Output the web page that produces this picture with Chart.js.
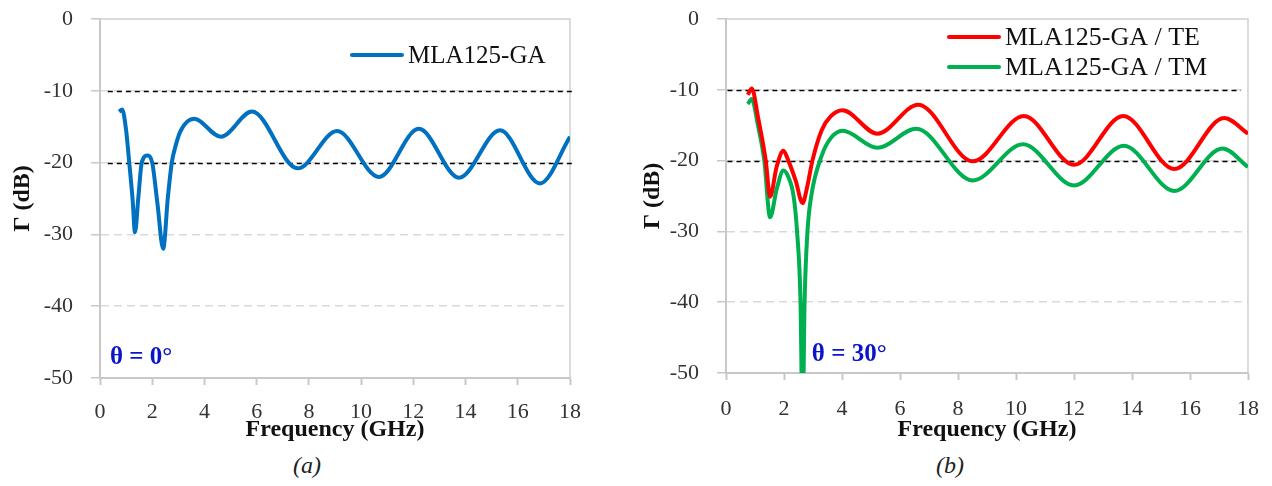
<!DOCTYPE html>
<html>
<head>
<meta charset="utf-8">
<script src="https://cdn.jsdelivr.net/npm/chart.js@4"></script>
<style>
  body { margin: 0; background: #fff; width: 1272px; height: 486px; position: relative; overflow: hidden; }
  canvas { position: absolute; top: 0; }
  .cap { position: absolute; top: 452px; font: italic 24px "Liberation Serif", serif; color: #222; }
</style>
</head>
<body>
<canvas id="chartA" width="600" height="445" style="left:0px"></canvas>
<canvas id="chartB" width="642" height="445" style="left:630px"></canvas>
<div class="cap" style="left:293px">(a)</div>
<div class="cap" style="left:936px">(b)</div>
<script>
// (a) theta = 0
const freqA = [0.73, 0.85, 1.0, 1.12, 1.25, 1.34, 1.47, 1.6, 1.83, 2.0, 2.2, 2.42, 2.6, 2.75, 2.9, 3.1, 3.6,
    4.63, 5.82, 7.57, 9.08, 10.68, 12.21, 13.75, 15.32, 16.85, 18];
const gammaA = [-12.9, -12.6, -15.5, -20, -25.2, -29.7, -24.8, -20, -19.0, -20, -25.7, -32.0, -24.8, -20, -17.6, -15.5, -13.9,
    -16.4, -12.9, -20.8, -15.6, -22.0, -15.3, -22.1, -15.5, -22.9, -16.4];

// (b) theta = 30, TE
const freqTE = [0.75, 0.89, 1.1, 1.37, 1.52, 1.75, 1.98, 2.15, 2.4, 2.64, 2.8, 2.98, 3.3, 3.6, 4.02,
    5.22, 6.63, 8.51, 10.27, 12.0, 13.7, 15.46, 17.18, 18];
const gammaTE = [-10.7, -9.8, -13.8, -20, -25.1, -20.8, -18.6, -20, -22.8, -26.0, -23.7, -20, -15.7, -13.8, -12.9,
    -16.2, -12.1, -20.1, -13.7, -20.6, -13.7, -21.2, -14.0, -16.2];

// (b) theta = 30, TM
const freqTM = [0.75, 0.89, 1.1, 1.32, 1.52, 1.75, 1.98, 2.15, 2.33, 2.45, 2.57, 2.64, 2.71, 2.81, 2.94, 3.3, 3.6, 4.02,
    5.22, 6.56, 8.51, 10.24, 12.0, 13.72, 15.46, 17.12, 18];
const gammaTM = [-12.0, -11.3, -15.0, -20, -28.0, -24.0, -21.4, -22.3, -25, -30, -40, -58, -40, -30, -25, -19.3, -16.9, -15.8,
    -18.2, -15.5, -22.8, -17.7, -23.5, -17.9, -24.3, -18.3, -20.9];

const thresholds = [-10, -20];
const yTicks = { min: -50, max: 0, step: 10 };
const xTicks = { min: 0, max: 18, step: 2 };

const FONT = '"Liberation Serif", "Times New Roman", serif';
const toXY = (xs, ys) => xs.map((x, i) => ({ x: x, y: ys[i] }));

// black dashed reference lines at -10 / -20 dB
const refLines = {
    id: 'refLines',
    beforeDatasetsDraw(chart, args, opts) {
        const { ctx, scales: { x, y } } = chart;
        ctx.save();
        ctx.strokeStyle = '#000';
        ctx.lineWidth = 1.3;
        ctx.setLineDash([5, 4]);
        opts.values.forEach(v => {
            const py = Math.round(y.getPixelForValue(v)) + 0.5;
            ctx.beginPath();
            ctx.moveTo(x.getPixelForValue(opts.from), py);
            ctx.lineTo(x.getPixelForValue(opts.to), py);
            ctx.stroke();
        });
        ctx.restore();
    }
};

// grey box round plot area
const plotBox = {
    id: 'plotBox',
    beforeDatasetsDraw(chart) {
        const { ctx, chartArea: a } = chart;
        ctx.save();
        ctx.strokeStyle = '#d0d0d0';
        ctx.lineWidth = 1.5;
        ctx.beginPath();
        ctx.moveTo(a.left, a.top);
        ctx.lineTo(a.right, a.top);
        ctx.lineTo(a.right, a.bottom);
        ctx.stroke();
        ctx.restore();
    }
};

// legend drawn as line + label
const lineLegend = {
    id: 'lineLegend',
    afterDatasetsDraw(chart, args, opts) {
        const { ctx } = chart;
        ctx.save();
        ctx.font = opts.size + 'px ' + FONT;
        ctx.textBaseline = 'middle';
        ctx.fillStyle = '#111';
        chart.data.datasets.forEach((ds, i) => {
            const yy = opts.y + i * opts.rowH;
            ctx.strokeStyle = ds.borderColor;
            ctx.lineWidth = 4;
            ctx.lineCap = 'round';
            ctx.beginPath();
            ctx.moveTo(opts.x, yy);
            ctx.lineTo(opts.x + 50, yy);
            ctx.stroke();
            ctx.fillText(ds.label, opts.x + 56, yy + 1);
        });
        ctx.restore();
    }
};

// angle note
const angleNote = {
    id: 'angleNote',
    afterDatasetsDraw(chart, args, opts) {
        const { ctx, scales: { x, y } } = chart;
        ctx.save();
        ctx.font = 'bold 25px ' + FONT;
        ctx.fillStyle = '#0a14c8';
        ctx.textBaseline = 'middle';
        ctx.fillText(opts.text, x.getPixelForValue(opts.at[0]), y.getPixelForValue(opts.at[1]));
        ctx.restore();
    }
};

function makeOptions(cfg) {
    return {
        responsive: false,
        devicePixelRatio: 1,
        animation: false,
        layout: { padding: { top: 19, right: cfg.padRight, left: 0, bottom: 0 } },
        elements: { point: { radius: 0 }, line: { borderWidth: 4, cubicInterpolationMode: 'monotone' } },
        scales: {
            x: {
                type: 'linear',
                min: xTicks.min,
                max: xTicks.max,
                afterFit: s => { s.height = cfg.xHeight; s.paddingLeft = 0; s.paddingRight = 0; },
                ticks: { stepSize: xTicks.step, padding: cfg.xPad, color: '#333', font: { family: FONT, size: 22 } },
                grid: { drawOnChartArea: false, tickLength: 7, tickColor: '#c8c8c8', tickWidth: 2 },
                border: { color: '#c8c8c8', width: 2 },
                title: { display: true, text: 'Frequency (GHz)', color: '#111', padding: { top: 0, bottom: 1 },
                    font: { family: FONT, size: 24, weight: 'bold', lineHeight: 1.2 } }
            },
            y: {
                min: yTicks.min,
                max: yTicks.max,
                afterFit: s => { s.width = cfg.yWidth; s.paddingTop = 0; s.paddingBottom = 0; },
                ticks: { stepSize: yTicks.step, padding: 18, color: '#333', font: { family: FONT, size: 22 } },
                grid: {
                    color: ctx => (ctx.tick && (ctx.tick.value === 0 || ctx.tick.value === -50)) ? 'rgba(0,0,0,0)' : '#d9d9d9',
                    lineWidth: 1.5, tickLength: 9, tickColor: '#c8c8c8', tickWidth: 1.5, tickBorderDash: []
                },
                border: { color: '#c8c8c8', width: 2, dash: [8, 5] },
                title: { display: true, text: 'Γ (dB)', color: '#111', padding: { top: 8, bottom: 0 },
                    font: { family: FONT, size: 24, weight: 'bold', lineHeight: 1.2 } }
            }
        },
        plugins: {
            legend: { display: false },
            tooltip: { enabled: false },
            refLines: { values: thresholds, from: cfg.refFrom, to: cfg.refTo },
            lineLegend: cfg.legend,
            angleNote: cfg.note
        }
    };
}

const chartA = new Chart(document.getElementById('chartA').getContext('2d'), {
    type: 'line',
    data: {
        datasets: [{
            label: 'MLA125-GA',
            data: toXY(freqA, gammaA),
            borderColor: '#0070c0'
        }]
    },
    options: makeOptions({
        padRight: 30, xHeight: 67, yWidth: 100, xPad: 14,
        refFrom: 0.3, refTo: 18.2,
        legend: { x: 352, y: 55, rowH: 31, size: 25 },
        note: { text: 'θ = 0°', at: [0.38, -47.1] }
    }),
    plugins: [plotBox, refLines, lineLegend, angleNote]
});

const chartB = new Chart(document.getElementById('chartB').getContext('2d'), {
    type: 'line',
    data: {
        datasets: [
            {
                label: 'MLA125-GA / TE',
                data: toXY(freqTE, gammaTE),
                borderColor: '#ff0000'
            },
            {
                label: 'MLA125-GA / TM',
                data: toXY(freqTM, gammaTM),
                borderColor: '#00b050'
            }
        ]
    },
    options: makeOptions({
        padRight: 24, xHeight: 72, yWidth: 96, xPad: 16,
        refFrom: 0.05, refTo: 17.75,
        legend: { x: 319, y: 37, rowH: 30, size: 26 },
        note: { text: 'θ = 30°', at: [2.96, -47.4] }
    }),
    plugins: [plotBox, refLines, lineLegend, angleNote]
});
</script>
</body>
</html>
